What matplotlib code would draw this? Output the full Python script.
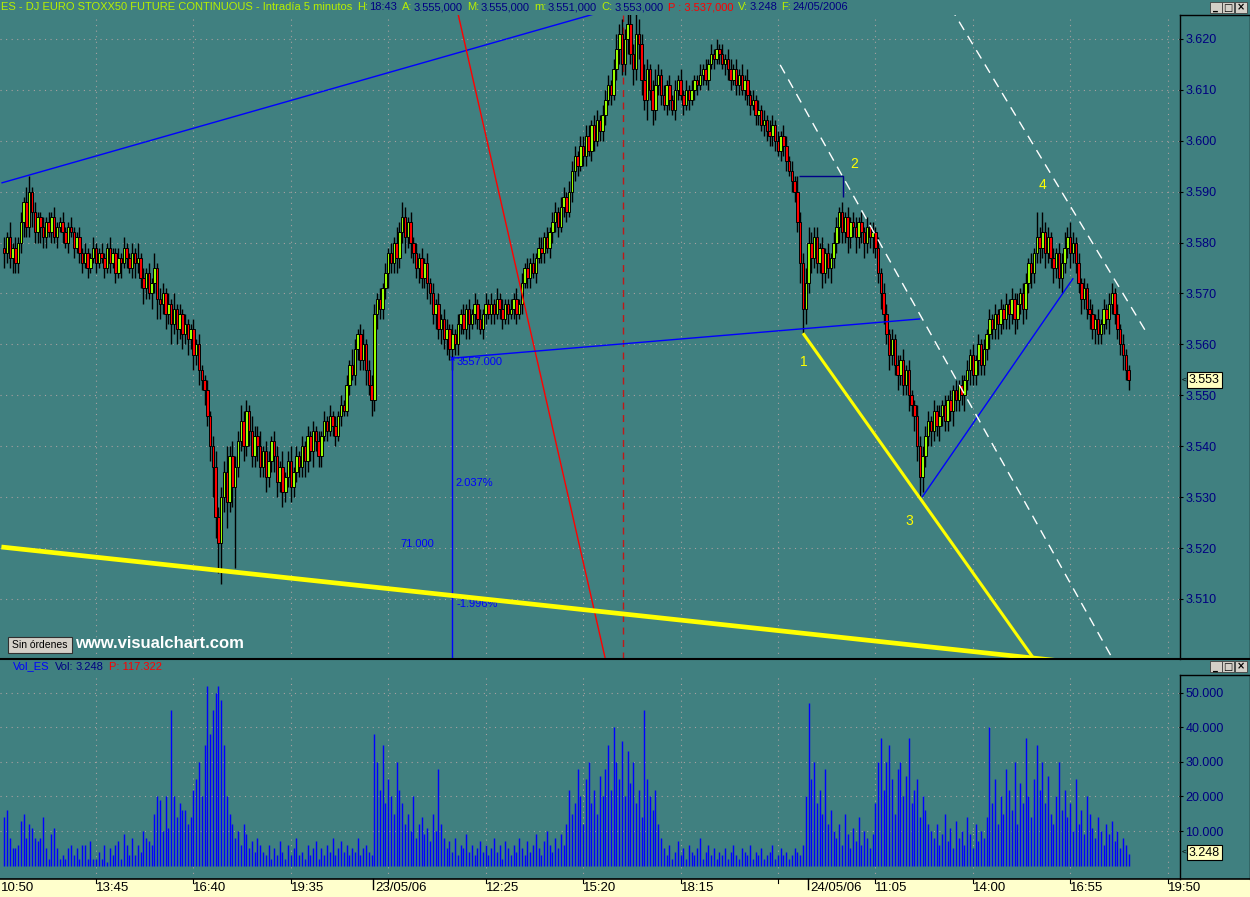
import matplotlib
matplotlib.use("Agg")
import matplotlib.pyplot as plt
import matplotlib.transforms as mtransforms
from matplotlib.patches import Rectangle
from matplotlib.lines import Line2D
import numpy as np

# ---------------- data ----------------
FIRST_BAR = 2
OPEN0 = 3579
CLOSE = [
    # day 1 (22/05)
    3578, 3581, 3577, 3579, 3576, 3580,
    3584, 3588, 3583, 3590, 3586, 3582, 3585, 3583, 3581,
    3584, 3582, 3585, 3581, 3583, 3584, 3582, 3580, 3583, 3582, 3579, 3581, 3578,
    3576, 3578, 3575, 3577, 3579, 3576, 3578,
    3577, 3575, 3579, 3576, 3578, 3574, 3577, 3576, 3579, 3577, 3575, 3578, 3576,
    3577, 3573, 3571, 3574, 3570, 3572, 3575, 3569, 3568,
    3570, 3566, 3568, 3564, 3567, 3563, 3566, 3562, 3564, 3561, 3563,
    3558, 3560, 3555, 3553, 3551,
    3546, 3540, 3536,
    3526, 3521, 3530,
    3535, 3529, 3538, 3532, 3536, 3541,
    3545, 3540, 3547, 3543, 3538, 3542,
    3540, 3536, 3539, 3534, 3537, 3541, 3538,
    3533, 3536, 3531, 3534, 3537, 3532, 3535, 3538, 3536,
    3540, 3537, 3542, 3539, 3543, 3541, 3538,
    3542, 3545, 3543, 3546, 3544, 3542, 3546, 3548, 3547,
    3552, 3556, 3554, 3559, 3562, 3557,
    3560, 3555, 3552, 3549,
    # day 2 (23/05)
    3566, 3569, 3567, 3571,
    3574, 3578, 3576, 3580, 3577, 3582,
    3585, 3581, 3584, 3580, 3578,
    3575, 3577, 3573, 3576, 3572, 3570,
    3566, 3568, 3563, 3565, 3561,
    3563, 3559, 3562, 3560, 3564,
    3566, 3563, 3567, 3564, 3566, 3568, 3565, 3563, 3566, 3568, 3566,
    3568, 3566, 3569, 3567, 3565, 3568, 3566, 3567, 3569, 3566, 3568,
    3572, 3575, 3573, 3576, 3574, 3577, 3579,
    3578, 3581, 3579, 3582, 3584,
    3586, 3583, 3587, 3589, 3586, 3590,
    3594, 3597, 3595, 3599, 3597,
    3601, 3598, 3603, 3600, 3604, 3602, 3605,
    3608, 3611, 3609, 3614,
    3618, 3621, 3615, 3620, 3623, 3617, 3614, 3621, 3619,
    3612, 3608, 3614, 3610, 3606, 3611, 3613,
    3609, 3607, 3611, 3608, 3606, 3610, 3612, 3609, 3607, 3610, 3608, 3610, 3612, 3611,
    3613, 3614, 3612, 3615, 3617, 3616, 3618, 3617, 3615, 3616, 3614,
    3612, 3614, 3611, 3613, 3610, 3612, 3609, 3607,
    3608, 3605, 3606, 3603, 3604, 3602, 3601,
    3603, 3600, 3598, 3601, 3599,
    3596, 3594, 3592, 3590,
    3584, 3576, 3567, 3572,
    # day 3 (24/05)
    3580, 3577, 3581,
    3576, 3579, 3574, 3578, 3575, 3577, 3580,
    3583, 3586, 3582, 3585, 3581, 3584, 3583,
    3581, 3584, 3582, 3580, 3583, 3581, 3582, 3579,
    3574, 3570, 3566,
    3562, 3558, 3561, 3556, 3554, 3557,
    3552, 3555, 3550, 3548, 3546,
    3540, 3534, 3538, 3542,
    3545, 3543, 3547, 3544, 3546, 3548, 3545,
    3549, 3547, 3551, 3549, 3552, 3550, 3553,
    3555, 3558, 3554, 3557, 3560, 3556, 3559,
    3562, 3565, 3563, 3566, 3564, 3567, 3565,
    3568, 3566, 3569, 3565, 3568, 3570, 3567,
    3572, 3576, 3574, 3578, 3581, 3579,
    3582, 3578, 3581, 3577,
    3575, 3578, 3573, 3576, 3579,
    3581, 3578, 3580, 3576,
    3572, 3569, 3571, 3567, 3566,
    3563, 3565, 3562, 3564,
    3567, 3565, 3568, 3570, 3566,
    3563, 3560, 3558, 3555, 3553,
]
UPPER_WICK = [
    2, 1, 3, 1, 2, 1,
    2, 1, 3, 3, 1, 2, 1, 1, 2,
    1, 2, 1, 2, 1, 1, 2, 1, 1, 2, 1, 1, 2,
    1, 2, 1, 1, 2, 1, 1,
    2, 1, 1, 2, 1, 1, 2, 1, 2, 1, 1, 2, 1,
    3, 1, 2, 1, 2, 1, 3, 1, 2,
    2, 1, 2, 1, 3, 1, 2, 1, 2, 1, 1,
    2, 1, 2, 1, 1,
    2, 1, 2,
    3, 2, 2,
    2, 5, 2, 3, 2, 2,
    3, 2, 2, 1, 3, 2,
    2, 3, 1, 2, 2, 1, 2,
    2, 1, 3, 1, 2, 3, 1, 2, 1,
    2, 1, 2, 1, 2, 1, 2,
    1, 2, 1, 2, 1, 2, 1, 2, 1,
    2, 1, 3, 2, 1, 2,
    3, 1, 2, 2,
    2, 1, 2, 1,
    2, 1, 2, 1, 3, 2,
    3, 2, 1, 2, 1,
    2, 1, 2, 1, 2, 1,
    2, 1, 2, 1, 2,
    2, 1, 2, 1, 2,
    1, 2, 1, 2, 1, 2, 1, 2, 1, 2, 1,
    2, 1, 2, 1, 2, 1, 1, 2, 1, 2, 1,
    2, 1, 2, 1, 2, 1, 2,
    2, 1, 2, 1, 2,
    2, 1, 2, 2, 1, 2,
    2, 2, 1, 2, 2,
    2, 2, 1, 2, 2, 1, 2,
    2, 2, 1, 2,
    3, 2, 3, 2, 2, 3, 2, 4, 3,
    2, 3, 2, 1, 2, 3, 2,
    1, 2, 1, 2, 1, 2, 1, 2, 1, 2, 1, 2, 1, 1,
    2, 1, 2, 1, 2, 1, 2, 1, 2, 1, 2,
    2, 1, 2, 1, 2, 1, 2, 1,
    2, 1, 2, 1, 2, 1, 2,
    2, 1, 2, 1, 2,
    2, 1, 2, 1,
    3, 2, 2, 3,
    3, 2, 2,
    2, 1, 2, 1, 2, 1, 2,
    2, 1, 2, 1, 2, 1, 2,
    2, 1, 2, 1, 2, 1, 2, 1,
    2, 1, 2,
    2, 1, 2, 1, 2, 1,
    2, 1, 2, 1, 1,
    2, 2, 2, 2,
    2, 1, 2, 1, 2, 1, 2,
    1, 2, 1, 2, 1, 2, 1,
    2, 1, 2, 1, 2, 1, 2,
    1, 2, 1, 2, 1, 2, 1,
    2, 1, 2, 1, 2, 1, 2,
    2, 1, 2, 1, 5, 2,
    4, 2, 2, 1,
    2, 1, 2, 2, 3,
    2, 3, 2, 1,
    2, 1, 2, 1, 2,
    2, 1, 2, 1,
    2, 1, 2, 2, 1,
    2, 1, 2, 1, 1,
]
LOWER_WICK = [
    3, 2, 2, 3, 2, 2,
    2, 3, 2, 2, 3, 2, 2, 3, 2,
    2, 1, 2, 1, 2, 1, 2, 1, 2, 1, 2, 1, 2,
    2, 1, 2, 1, 1, 2, 1,
    1, 2, 1, 2, 1, 2, 1, 3, 1, 2, 1, 2, 3,
    2, 2, 3, 2, 1, 3, 2, 4, 3,
    2, 3, 2, 4, 2, 3, 2, 3, 2, 3, 2,
    3, 2, 3, 2, 3,
    2, 3, 6,
    4, 6, 8,
    3, 5, 2, 4, 16, 2,
    2, 3, 2, 3, 2, 2,
    3, 2, 2, 3, 2, 2, 3,
    3, 2, 3, 2, 2, 3, 2, 2, 2,
    2, 3, 2, 2, 3, 2, 2,
    2, 1, 2, 1, 2, 2, 1, 2, 1,
    1, 2, 1, 2, 2, 2,
    2, 3, 2, 3,
    2, 3, 2, 2,
    2, 3, 2, 2, 3, 2,
    2, 3, 2, 3, 2,
    2, 3, 2, 2, 3, 2,
    2, 3, 2, 3, 2,
    3, 2, 4, 2, 2,
    2, 1, 2, 3, 1, 2, 2, 1, 2, 2, 1,
    2, 2, 1, 2, 2, 1, 2, 1, 2, 2, 1,
    2, 1, 2, 2, 1, 2, 1,
    2, 2, 1, 2, 2,
    2, 2, 1, 2, 2, 1,
    2, 2, 2, 1, 2,
    2, 1, 2, 2, 1, 2, 2,
    2, 1, 2, 1,
    2, 3, 2, 2, 3, 2, 3, 2, 3,
    3, 2, 4, 2, 3, 2, 2,
    2, 1, 2, 2, 1, 2, 2, 1, 2, 1, 2, 1, 2, 2,
    1, 2, 1, 2, 1, 2, 1, 2, 1, 2, 2,
    2, 1, 2, 2, 1, 2, 2, 2,
    1, 2, 2, 1, 2, 2, 2,
    2, 2, 1, 2, 2,
    2, 1, 2, 2,
    2, 4, 5, 3,
    2, 3, 2,
    2, 2, 3, 2, 2, 3, 2,
    2, 3, 2, 2, 3, 2, 2,
    3, 2, 2, 3, 2, 2, 3, 2,
    2, 3, 2,
    2, 3, 2, 2, 3, 2,
    2, 2, 3, 2, 3,
    3, 4, 3, 2,
    2, 3, 2, 2, 3, 2, 2,
    2, 2, 3, 2, 2, 2, 3,
    2, 3, 2, 2, 3, 2, 2,
    2, 3, 2, 2, 3, 2, 2,
    2, 3, 2, 3, 2, 2, 3,
    2, 2, 3, 2, 2, 3,
    2, 3, 2, 2,
    3, 2, 2, 3, 2,
    2, 3, 2, 2,
    2, 3, 2, 2, 3,
    2, 3, 2, 2,
    2, 2, 3, 2, 2,
    2, 2, 3, 2, 2,
]
VOLUME_K = [
    # day 1
    14, 16, 8, 5, 5, 6, 13, 15, 8, 12, 11, 8, 7, 8, 14, 5, 2, 9, 11, 5, 2,
    3, 2, 5, 6, 3, 5, 2, 6, 6, 2, 7, 2, 2, 4, 2, 6, 1, 5,
    3, 6, 7, 2, 9, 6, 3, 8, 3, 6, 4, 10, 8, 7, 6,
    15, 20, 19, 10, 20, 11, 45, 20, 14, 18, 16, 16, 12, 14,
    22, 25, 30, 20, 35, 52, 38, 45, 50, 52, 48, 35, 20,
    15, 12, 8, 10, 6, 12, 9, 5, 7, 4, 8, 6,
    4, 3, 6, 2, 5, 3, 7, 4, 2, 6, 3, 5, 8, 3, 4, 2, 6, 3, 5, 7, 2,
    5, 3, 6, 4, 8, 3, 5, 7, 4, 6, 3, 5, 4, 8, 3, 5, 6, 4, 3,
    # day 2
    38, 30, 22, 35, 18, 25, 20, 15, 30, 22, 18,
    12, 15, 10, 20, 8, 12, 14, 9, 11, 7, 15, 10, 28, 12, 8,
    5, 7, 4, 8, 3, 6, 5, 9, 4, 6, 3, 5, 7, 4, 6,
    3, 5, 8, 4, 6, 2, 7, 5, 3, 6, 4, 8, 5, 3, 7,
    4, 6, 9, 5, 3, 7, 10, 6, 4, 8, 5, 9, 6, 12,
    22, 15, 18, 28, 20, 12, 25, 30, 18, 22, 15, 26, 20,
    28, 35, 22, 40, 30, 25, 36, 20, 33, 24, 30, 18, 22, 14,
    45, 25, 20, 16, 22, 12, 8,
    5, 3, 6, 2, 4, 7, 3, 5, 2, 6, 4, 3, 5, 8, 2, 4, 6, 3, 5, 2, 4, 3,
    5, 2, 4, 6, 3, 2, 5, 4, 3, 6, 2, 4, 3, 5, 2, 3, 4, 6, 2, 3, 5, 3, 4, 2, 3, 5, 4, 3, 6, 20,
    # day 3
    47, 25, 30, 18, 22, 15, 28, 12, 16, 10,
    8, 12, 6, 15, 9, 5, 11, 7, 14, 6, 10, 8, 5, 9,
    18, 30, 37, 22, 30, 35, 25, 15, 28, 30, 20, 26, 37, 18, 22, 25, 14, 20, 16, 12, 10, 8,
    12, 6, 9, 15, 7, 11, 5, 13, 8, 10, 6, 14, 9, 5, 12, 7, 10, 8,
    14, 40, 18, 25, 12, 20, 15, 28, 22, 16, 30, 12, 24, 18, 37, 20, 14, 25,
    35, 22, 30, 18, 26, 15, 12, 20, 30, 16, 22, 14, 18, 10, 25, 12, 16, 9, 20, 15,
    11, 8, 14, 10, 6, 12, 9, 13, 7, 10, 5, 8, 6, 3.248,
]

TIME_LABELS = ["10:50", "13:45", "16:40", "19:35", "12:25", "15:20",
               "18:15", "11:05", "14:00", "16:55", "19:50"]
TIME_BARS = [0, 35, 70, 105, 175, 210, 245, 315, 350, 385, 420]
GRID_BARS = [35, 70, 105, 140, 175, 210, 245, 280, 315, 350, 385, 420]
DAY_LABELS = ["23/05/06", "24/05/06"]
DAY_BARS = [134.5, 290.7]
PRICE_TICKS = [3510, 3520, 3530, 3540, 3550, 3560, 3570, 3580, 3590, 3600, 3610, 3620]
VOL_TICKS = [10, 20, 30, 40, 50]
LAST_PRICE = 3553
LAST_VOL = 3.248

# drawing objects (bar index, price)
TREND_UP_BLUE = [(1.0, 3591.7), (230.0, 3627.4)]
RED_LINE = [(163.0, 3629.9), (221.0, 3491.0)]
RED_DASH_BAR = 224.4
NECK_BLUE = [(163.0, 3557.3), (331.1, 3565.0)]
VERT_BLUE = [(163.0, 3557.3), (163.0, 3490.0)]
RISE_BLUE = [(331.8, 3530.0), (386.1, 3573.0)]
BOX_BLUE = [(287.6, 3593.1), (303.4, 3593.1), (303.4, 3589.0)]
YELLOW_1 = [(1.0, 3520.2), (380.0, 3497.9)]
YELLOW_2 = [(289.0, 3562.2), (375.0, 3495.9)]
WHITE_1 = [(280.8, 3614.9), (405.0, 3493.6)]
WHITE_2 = [(342.0, 3626.2), (413.0, 3561.8)]
WAVE_LABELS = ["1", "2", "3", "4"]
WAVE_POS = [(288.0, 3556.5), (305.9, 3595.4), (325.7, 3525.3), (373.5, 3591.3)]

# ---------------- style ----------------
W, H = 1250, 897
TEAL = "#408080"
UPC = "#99FF00"
DNC = "#FF0000"
NAVY = "#000080"
YG = "#B8F000"
GRIDC = "#A8A0A0"

plt.rcParams["font.family"] = ["Liberation Sans", "DejaVu Sans"]

fig = plt.figure(figsize=(W / 100, H / 100), dpi=100)
fig.patch.set_facecolor(TEAL)


def fy(y):
    return 1 - y / H


ax = fig.add_axes([0, fy(659), 1179 / W, (659 - 15) / H])
axv = fig.add_axes([0, fy(879), 1179 / W, (879 - 675) / H], sharex=ax)
for a in (ax, axv):
    a.set_facecolor(TEAL)
    for s in a.spines.values():
        s.set_visible(False)

XMIN, XMAX = 0.503, 424.1
ax.set_xlim(XMIN, XMAX)
ax.set_ylim(3498.2, 3624.7)
axv.set_ylim(-3.88, 55.12)

# grid
for a, ticks in ((ax, PRICE_TICKS), (axv, VOL_TICKS)):
    for t in ticks:
        a.axhline(t, color=GRIDC, lw=0.8, ls=(0, (1, 4)), zorder=1)
    for g in GRID_BARS:
        a.axvline(g, color=GRIDC, lw=0.8, ls=(0, (1, 4)), zorder=1)

# y axis ticks
for a, ticks, fmt in ((ax, PRICE_TICKS, lambda v: f"{v/1000:.3f}"),
                      (axv, VOL_TICKS, lambda v: f"{v:.3f}")):
    a.yaxis.tick_right()
    a.set_yticks(ticks)
    a.set_yticklabels([fmt(t) for t in ticks])
    a.tick_params(axis="y", direction="out", length=3, width=0.8, color="black",
                  labelcolor=NAVY, labelsize=9, pad=1.5)
    a.tick_params(axis="x", bottom=False, labelbottom=False)

# candles
n = len(CLOSE)
assert len(UPPER_WICK) == n and len(LOWER_WICK) == n and len(VOLUME_K) == n
idx = np.arange(FIRST_BAR, FIRST_BAR + n)
close = np.array(CLOSE, float)
open_ = np.concatenate([[OPEN0], close[:-1]])
high = np.maximum(open_, close) + np.array(UPPER_WICK)
low = np.minimum(open_, close) - np.array(LOWER_WICK)
upm = close >= open_
ax.axvline(RED_DASH_BAR, color="#C01818", lw=1.0, ls=(0, (5, 4)), zorder=2)
ax.vlines(idx, low, high, color="black", lw=1.0, zorder=3)
body_b = np.minimum(open_, close)
body_h = np.maximum(np.abs(close - open_), 0.3)
ax.bar(idx, body_h, bottom=body_b, width=0.88,
       color=np.where(upm, UPC, DNC), edgecolor="black", linewidth=0.7, zorder=4)

# volume
axv.vlines(idx, 0, VOLUME_K, color="#0000FF", lw=1.0, zorder=3)


def seg(points, **kw):
    xs, ys = zip(*points)
    ax.plot(xs, ys, zorder=6, solid_capstyle="butt", **kw)


seg(TREND_UP_BLUE, color="#0000FF", lw=1.0)
seg(RED_LINE, color="#FF0000", lw=1.0)
seg(NECK_BLUE, color="#0000FF", lw=1.0)
seg(VERT_BLUE, color="#0000FF", lw=1.0)
seg(RISE_BLUE, color="#0000FF", lw=1.0)
seg(BOX_BLUE, color="#000088", lw=1.0)
seg(YELLOW_1, color="#FFFF00", lw=3.4)
seg(YELLOW_2, color="#FFFF00", lw=2.2)
seg(WHITE_1, color="white", lw=1.0, ls=(0, (7, 5)))
seg(WHITE_2, color="white", lw=1.0, ls=(0, (7, 5)))
ax.plot([NECK_BLUE[0][0]], [NECK_BLUE[0][1]], marker="x", ms=3, color="#0000FF", mew=0.8, zorder=7)

for lab, (bx, py) in zip(WAVE_LABELS, WAVE_POS):
    ax.text(bx, py, lab, color="#FFFF00", fontsize=10, ha="left", va="center", zorder=8)

ax.text(164.7, 3556.6, "3557.000", color="#0000FF", fontsize=8, ha="left", va="center", zorder=8)
ax.text(164.0, 3532.8, "2.037%", color="#0000FF", fontsize=8, ha="left", va="center", zorder=8)
ax.text(144.2, 3520.8, "71.000", color="#0000FF", fontsize=8, ha="left", va="center", zorder=8)
ax.text(164.4, 3509.0, "-1.996%", color="#0000FF", fontsize=8, ha="left", va="center", zorder=5)

# ---------------- frame / chrome ----------------
def fline(x1, y1, x2, y2, lw=1.0, color="black"):
    fig.add_artist(Line2D([x1 / W, x2 / W], [fy(y1), fy(y2)], color=color, lw=lw,
                          transform=fig.transFigure))


fig.add_artist(Rectangle((0, 0), 1, 18 / H, transform=fig.transFigure,
                         facecolor="#FFFFCC", edgecolor="none"))
fline(1179.5, 15, 1179.5, 659)
fline(1179.5, 15, 1249.5, 15)
fline(1249.5, 15, 1249.5, 659)
fline(0, 659, 1250, 659, lw=1.5)
fline(1179.5, 675, 1249.5, 675)
fline(1179.5, 675, 1179.5, 879)
fline(1249.5, 675, 1249.5, 879)
fline(0, 879, 1250, 879, lw=1.2)

# window buttons
for ytop in (2, 661):
    for bx, sym in ((1210, "_"), (1222, "□"), (1235, "×")):
        fig.add_artist(Rectangle((bx / W, fy(ytop + 11)), 11.5 / W, 11 / H,
                                 transform=fig.transFigure, facecolor="#D4D0C8",
                                 edgecolor="#404040", lw=0.6))
        fig.text((bx + 5.8) / W, fy(ytop + 5.5), sym, fontsize=7, color="black",
                 ha="center", va="center", family=["DejaVu Sans"], weight="bold")

# last value tags
for ycen, txt in ((380, f"{LAST_PRICE/1000:.3f}"), (852.5, f"{LAST_VOL:.3f}")):
    fig.text(1182 / W, fy(ycen), "<", fontsize=6, color="black", ha="left", va="center")
    fig.text(1189 / W, fy(ycen), txt, fontsize=9, color="black", ha="left", va="center",
             bbox=dict(boxstyle="square,pad=0.15", facecolor="#FFFFC0", edgecolor="black", lw=0.8))

# x axis labels
trans = mtransforms.blended_transform_factory(axv.transData, fig.transFigure)
XFONT = ["Liberation Sans Narrow", "Liberation Sans", "DejaVu Sans"]
for lab, b in zip(TIME_LABELS, TIME_BARS):
    xb = max(b, XMIN + 0.3)
    fig.text(xb, fy(888), lab, transform=trans, fontsize=9.5, ha="left", va="center",
             color="black", family=XFONT)
for g in GRID_BARS:
    fig.add_artist(Line2D([g, g], [fy(879), fy(883)], color="black", lw=0.8, transform=trans))
for lab, b in zip(DAY_LABELS, DAY_BARS):
    fig.add_artist(Line2D([b, b], [fy(879), fy(889)], color="black", lw=1.0, transform=trans))
    fig.text(b + 1.0, fy(888), lab, transform=trans, fontsize=9.5, ha="left", va="center",
             color="black", family=XFONT)

# title bar (sequential coloured pieces)
renderer = fig.canvas.get_renderer()
TITLE = [("ES - DJ EURO STOXX50 FUTURE CONTINUOUS - Intradía 5 minutos", YG),
         ("H:", YG), ("18:43", NAVY), ("A:", YG), ("3.555,000", NAVY),
         ("M:", YG), ("3.555,000", NAVY), ("m:", YG), ("3.551,000", NAVY),
         ("C:", YG), ("3.553,000", NAVY), ("P : 3.537,000", "#FF0000"),
         ("V:", YG), ("3.248", NAVY), ("F:", YG), ("24/05/2006", NAVY)]


def seq_text(pieces, x0, ycen, size, gap_label=2.5, gap=5.5):
    x = x0
    for txt, col in pieces:
        t = fig.text(x / W, fy(ycen), txt, color=col, fontsize=size, ha="left", va="center")
        w = t.get_window_extent(renderer=renderer).width
        x += w + (gap_label if txt.endswith(":") else gap)
    return x


seq_text(TITLE, 1, 7.5, 8, gap_label=1.5, gap=4.5)
seq_text([("Vol_ES", "#0000FF"), ("Vol:", NAVY), ("3.248", NAVY), ("P: 117.322", "#FF0000")],
         13, 666.5, 8)

# Sin órdenes button + watermark
fig.add_artist(Rectangle((8 / W, fy(653)), 64 / W, 16 / H, transform=fig.transFigure,
                         facecolor="#D4D0C8", edgecolor="#303030", lw=0.8, zorder=9))
fig.text(40 / W, fy(645), "Sin órdenes", fontsize=7.5, color="black", ha="center",
         va="center", zorder=10)
fig.text(75 / W, fy(643), "www.visualchart.com", fontsize=12, color="white",
         weight="bold", ha="left", va="center", zorder=10)

fig.savefig("out.png", dpi=100, facecolor=TEAL)
